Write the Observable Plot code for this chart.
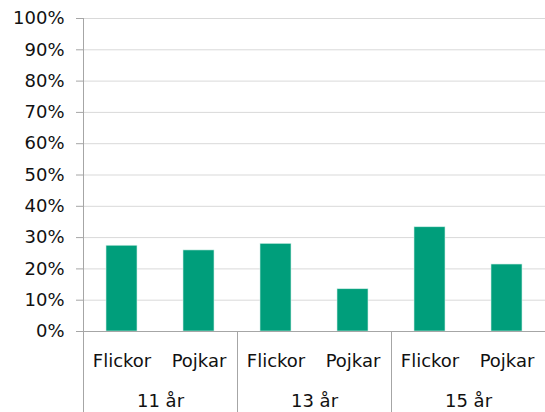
<!DOCTYPE html>
<html>
<head>
<meta charset="utf-8">
<script src="https://cdn.jsdelivr.net/npm/d3@7"></script>
<script src="https://cdn.jsdelivr.net/npm/@observablehq/plot@0.6"></script>
<style>
  html, body { margin: 0; padding: 0; background: #fff; overflow: hidden; }
  svg { display: block; }
</style>
</head>
<body>
<div id="chart"></div>
<script>
const groups = ["11 år", "13 år", "15 år"];
const genders = ["Flickor", "Pojkar"];
const flickor = [0.274, 0.280, 0.333];
const pojkar = [0.259, 0.135, 0.214];
const yTicks = [0, 0.1, 0.2, 0.3, 0.4, 0.5, 0.6, 0.7, 0.8, 0.9, 1];

const data = [];
groups.forEach((g, i) => {
  data.push({group: g, gender: genders[0], value: flickor[i]});
  data.push({group: g, gender: genders[1], value: pojkar[i]});
});

const W = 545, H = 412;
const plot = Plot.plot({
  width: W,
  height: H,
  marginLeft: 82,
  marginRight: 0,
  marginTop: 18,
  marginBottom: 81,
  style: {fontFamily: "DejaVu Sans, Verdana, sans-serif", fontSize: "18px", color: "#111", background: "#fff"},
  fx: {domain: groups, padding: 0, label: null},
  x: {domain: genders, paddingInner: 0.6, paddingOuter: 0.3, label: null},
  y: {domain: [0, 1], label: null},
  marks: [
    Plot.gridY(yTicks, {stroke: "#d9d9d9", strokeOpacity: 1}),
    Plot.barY(data, {fx: "group", x: "gender", y: "value", fill: "#009e7b", stroke: "#cfeee6", strokeWidth: 0.6, inset: 0}),
    Plot.ruleY([0], {stroke: "#a6a6a6"}),
    Plot.axisY(yTicks, {tickFormat: d3.format(".0%"), tickSize: 7, tickPadding: 12, stroke: "#a6a6a6", fill: "#111", label: null}),
    Plot.axisX({tickSize: 0, tickPadding: 23, fill: "#111", label: null}),
    Plot.axisFx({anchor: "bottom", tickSize: 0, tickPadding: 63, fill: "#111", label: null})
  ]
});

// group dividers and y-axis line, positioned through the plot's own scales
const fx = plot.scale("fx");
const y = plot.scale("y");
const svg = d3.select(plot);
groups.forEach((g, i) => {
  const xx = Math.round(fx.apply(g)) + 0.5;
  svg.append("line")
    .attr("x1", xx).attr("x2", xx)
    .attr("y1", i === 0 ? y.apply(1) : y.apply(0))
    .attr("y2", H)
    .attr("stroke", "#a6a6a6");
});

document.getElementById("chart").append(plot);
</script>
</body>
</html>
